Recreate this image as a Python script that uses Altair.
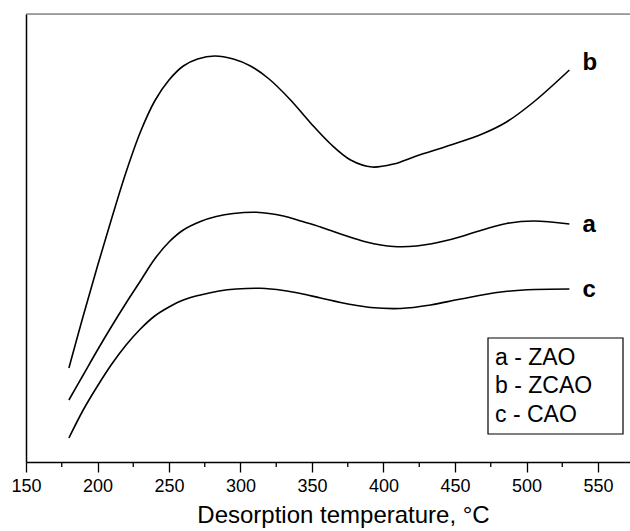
import altair as alt
import pandas as pd

# Desorption temperature (°C) and signal (arbitrary units) for each sample
temp_b = [180, 190, 200, 210, 220, 230, 240, 250, 260, 270, 282, 295, 307, 320, 335, 349,
          363, 377, 392, 407, 423, 447, 469, 486, 505, 530]
sig_b = [94, 146, 196, 244, 290, 330, 361, 382, 396, 403, 406, 403, 396, 383, 362, 339,
         318, 302, 295, 298, 306, 317, 328, 340, 360, 392]

temp_a = [180, 190, 200, 210, 220, 230, 240, 250, 260, 272, 283, 295, 311, 330, 342, 356,
          370, 388, 407, 423, 447, 469, 486, 505, 530]
sig_a = [62, 87, 112, 136, 159, 181, 203, 220, 232, 240.5, 245.5, 248.5, 249.7, 246, 241, 235,
         228, 220, 215.5, 216, 222.5, 232, 238.5, 241, 238]

temp_c = [180, 190, 200, 210, 220, 230, 240, 250, 260, 272, 285, 297, 314, 330, 342, 356,
          377, 391, 412, 433, 454, 482, 506, 530]
sig_c = [24, 52, 76, 98, 117, 133, 146, 155, 162, 167, 171, 173, 173.7, 171.5, 168.5, 164,
         157.5, 154.5, 153.5, 157, 163, 170, 172.5, 173]

series_keys = ["a", "b", "c"]
series_names = ["ZAO", "ZCAO", "CAO"]
x_ticks = [150, 200, 250, 300, 350, 400, 450, 500, 550]
x_minor = [175, 225, 275, 325, 375, 425, 475, 525]
x_title = "Desorption temperature, °C"

FONT = "Liberation Sans"
W, H = 604, 448
X_DOMAIN = [150, 150 + W / 1.43]
Y_DOMAIN = [0, H]

rows = []
for key, ts, vs in [("a", temp_a, sig_a), ("b", temp_b, sig_b), ("c", temp_c, sig_c)]:
    for t, v in zip(ts, vs):
        rows.append({"sample": key, "temp": t, "signal": v})
curves = pd.DataFrame(rows)

xs = alt.Scale(domain=X_DOMAIN, nice=False, zero=False)
ys = alt.Scale(domain=Y_DOMAIN, nice=False, zero=False)

x_axis = alt.Axis(values=x_ticks, tickSize=10, tickColor="black", tickWidth=1.3,
                  domainColor="black", domainWidth=1.5, labelFontSize=18, labelFont=FONT,
                  labelColor="black", labelPadding=5, labelFlush=False, labelOverlap=False,
                  grid=False, title=x_title,
                  titleFont=FONT, titleFontSize=24, titleFontWeight="normal",
                  titleColor="black", titlePadding=8, titleX=317)
y_axis = alt.Axis(ticks=False, labels=False, title=None, grid=False,
                  domainColor="black", domainWidth=1.5)

lines = alt.Chart(curves).mark_line(color="black", strokeWidth=1.6, interpolate="catmull-rom").encode(
    x=alt.X("temp:Q", scale=xs, axis=x_axis),
    y=alt.Y("signal:Q", scale=ys, axis=y_axis),
    detail="sample:N",
)

# curve end labels
ends = curves.sort_values("temp").groupby("sample").tail(1)
label_b = alt.Chart(ends[ends["sample"] == "b"]).mark_text(
    align="left", baseline="alphabetic", dx=13, dy=0, font=FONT, fontSize=24,
    fontWeight="bold", color="black").encode(
    x=alt.X("temp:Q", scale=xs), y=alt.Y("signal:Q", scale=ys), text="sample:N")
label_ac = alt.Chart(ends[ends["sample"] != "b"]).mark_text(
    align="left", baseline="alphabetic", dx=13, dy=8, font=FONT, fontSize=24,
    fontWeight="bold", color="black").encode(
    x=alt.X("temp:Q", scale=xs), y=alt.Y("signal:Q", scale=ys), text="sample:N")

# minor ticks on the temperature axis
minor = alt.Chart(pd.DataFrame({"temp": x_minor})).mark_rule(color="black", strokeWidth=1.3).encode(
    x=alt.X("temp:Q", scale=xs), y=alt.value(H), y2=alt.value(H + 5))

one = pd.DataFrame({"k": [0]})
top_line = alt.Chart(one).mark_rule(color="#555555", strokeWidth=1).encode(
    x=alt.value(0), x2=alt.value(W), y=alt.value(0))

# key box
box = alt.Chart(one).mark_rect(fill="white", stroke="black", strokeWidth=1.2).encode(
    x=alt.value(462), x2=alt.value(597), y=alt.value(324), y2=alt.value(420))
key_layers = []
for i, (k, n) in enumerate(zip(series_keys, series_names)):
    key_layers.append(
        alt.Chart(pd.DataFrame({"t": [f"{k} - {n}"]})).mark_text(
            align="left", baseline="alphabetic", font=FONT, fontSize=23, color="black").encode(
            text="t:N", x=alt.value(469), y=alt.value(351 + 28.4 * i)))

chart = alt.layer(top_line, minor, lines, label_b, label_ac, box, *key_layers).properties(
    width=W, height=H,
    autosize=alt.AutoSizeParams(type="none"),
    padding={"left": 26, "top": 14, "right": 0, "bottom": 69},
).configure_view(stroke=None).configure(background="white")

chart.save("out.html", embed_options={"renderer": "svg", "actions": False})
